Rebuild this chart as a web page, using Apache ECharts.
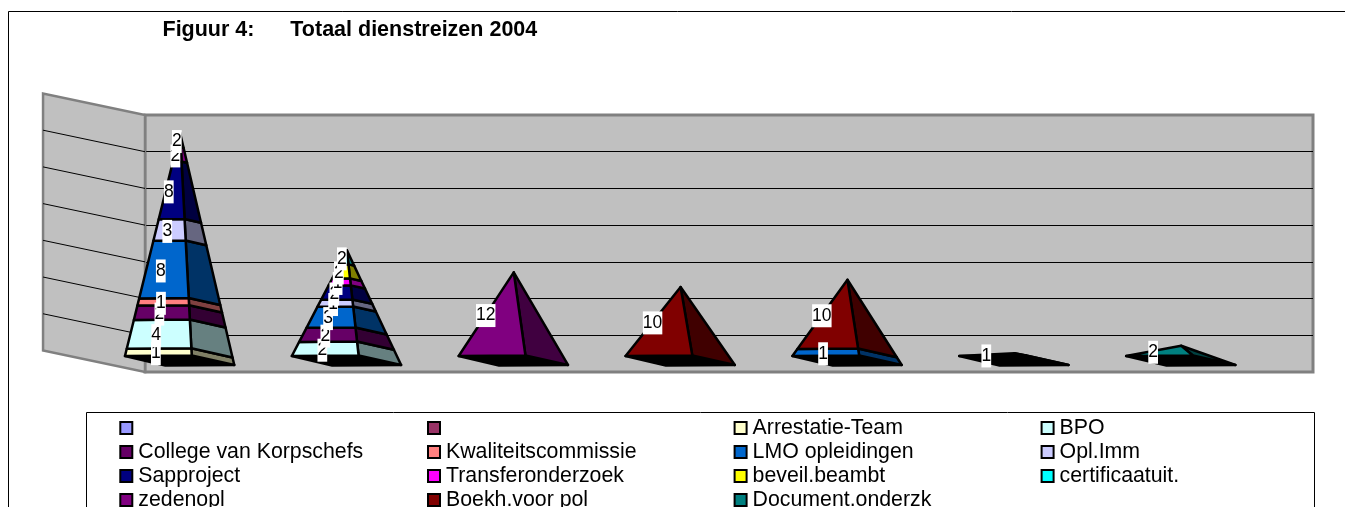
<!DOCTYPE html>
<html>
<head>
<meta charset="utf-8">
<style>html,body{margin:0;padding:0;background:#fff;overflow:hidden}#c{width:1345px;height:507px}</style>
<script src="https://cdn.jsdelivr.net/npm/echarts@6/dist/echarts.min.js"></script>
</head>
<body>
<div id="c"></div>
<script>
const categories = ['1', '2', '3', '4', '5', '6', '7'];
const seriesNames = [' ', '  ', 'Arrestatie-Team', 'BPO', 'College van Korpschefs', 'Kwaliteitscommissie',
  'LMO opleidingen', 'Opl.Imm', 'Sapproject', 'Transferonderzoek', 'beveil.beambt', 'certificaatuit.',
  'zedenopl', 'Boekh.voor pol', 'Document.onderzk'];
const seriesColors = ['#9999FF', '#993366', '#FFFFCC', '#CCFFFF', '#660066', '#FF8080', '#0066CC', '#CCCCFF',
  '#000080', '#FF00FF', '#FFFF00', '#00FFFF', '#800080', '#800000', '#008080'];
const blank1 = [0, 0, 0, 0, 0, 0, 0];
const blank2 = [0, 0, 0, 0, 0, 0, 0];
const arrestatie = [1, 0, 0, 0, 0, 0, 0];
const bpo = [4, 2, 0, 0, 0, 0, 0];
const college = [2, 2, 0, 0, 0, 0, 0];
const kwaliteit = [1, 0, 0, 0, 0, 0, 0];
const lmo = [8, 3, 0, 0, 1, 0, 0];
const oplImm = [3, 1, 0, 0, 0, 0, 0];
const sapproject = [8, 2, 0, 0, 0, 1, 0];
const transfer = [2, 1, 0, 0, 0, 0, 0];
const beveil = [0, 2, 0, 0, 0, 0, 0];
const certificaat = [0, 2, 0, 0, 0, 0, 0];
const zedenopl = [2, 0, 12, 0, 0, 0, 0];
const boekh = [0, 0, 0, 10, 10, 0, 0];
const documentOnd = [0, 0, 0, 0, 0, 0, 2];
const seriesValues = [blank1, blank2, arrestatie, bpo, college, kwaliteit, lmo, oplImm, sapproject,
  transfer, beveil, certificaat, zedenopl, boekh, documentOnd];
const axisMax = 35;
const axisStep = 5;
const axisTicks = [0, 5, 10, 15, 20, 25, 30, 35];

const totals = categories.map((_, i) => seriesValues.reduce((s, a) => s + a[i], 0));

// Picture geometry, as shares of one category band.
const SHIFT_X = -0.29, SHIFT_Y = -0.069;
const BASE = { left: [-0.330, -0.027], mid: [0.070, -0.030], right: [0.325, 0.027], front: [-0.088, 0.030] };
const WALL_DX = -0.611, WALL_DY = -0.129;

function frame(api, cat, total) {
  const zero = api.coord([cat, 0]);
  const band = api.size([1, 0])[0];
  const unit = api.size([0, 1])[1];
  const ax = zero[0] + SHIFT_X * band;
  const by = zero[1] + SHIFT_Y * band;
  const apex = [ax, by - total * unit];
  const pt = (k) => [ax + BASE[k][0] * band, by + BASE[k][1] * band];
  const at = (p, v) => [p[0] + (apex[0] - p[0]) * v / total, p[1] + (apex[1] - p[1]) * v / total];
  return { ax, by, band, apex, pt, at };
}
function darken(hex) {
  const n = parseInt(hex.slice(1), 16);
  const f = (v) => Math.round(v * 0.5).toString(16).padStart(2, '0');
  return '#' + f(n >> 16) + f((n >> 8) & 255) + f(n & 255);
}

const stackStart = categories.map(() => 0);
const pyramidSeries = seriesNames.map((name, k) => {
  const rows = [];
  seriesValues[k].forEach((v, i) => {
    if (v > 0) { rows.push([i, stackStart[i], stackStart[i] + v, totals[i], v]); stackStart[i] += v; }
  });
  return {
    type: 'custom', name, coordinateSystem: 'cartesian2d', data: rows, z: 3, silent: true,
    encode: { x: 0, y: 2 },
    itemStyle: { color: seriesColors[k] },
    renderItem(params, api) {
      const f = frame(api, api.value(0), api.value(3));
      const a = api.value(1), b = api.value(2);
      const L = f.pt('left'), M = f.pt('mid'), R = f.pt('right');
      const line = { stroke: '#000', lineWidth: 2.5, lineJoin: 'round' };
      return { type: 'group', children: [
        { type: 'polygon', shape: { points: [f.at(M, a), f.at(R, a), f.at(R, b), f.at(M, b)] },
          style: Object.assign({ fill: darken(seriesColors[k]) }, line) },
        { type: 'polygon', shape: { points: [f.at(L, a), f.at(M, a), f.at(M, b), f.at(L, b)] },
          style: Object.assign({ fill: seriesColors[k] }, line) }
      ] };
    }
  };
});

const baseRows = totals.map((t, i) => [i, 0, t]);
const baseSeries = {
  type: 'custom', name: 'base', data: baseRows, z: 2, silent: true, encode: { x: 0, y: 1 },
  renderItem(params, api) {
    const f = frame(api, api.value(0), api.value(2));
    return { type: 'polygon',
      shape: { points: [f.pt('left'), f.pt('mid'), f.pt('right'), f.pt('front')] },
      style: { fill: '#000', stroke: '#000', lineWidth: 2.5, lineJoin: 'round' } };
  }
};

const labelRows = [];
categories.forEach((_, i) => {
  let run = 0;
  seriesValues.forEach((vals) => {
    if (vals[i] > 0) { labelRows.push([i, run, run + vals[i] / 2, totals[i], vals[i]]); run += vals[i]; }
  });
});
const labelSeries = {
  type: 'custom', name: 'labels', data: labelRows, z: 5, silent: true, encode: { x: 0, y: 2 },
  renderItem(params, api) {
    const total = api.value(3), low = api.value(1), size = api.value(4);
    const f = frame(api, api.value(0), total);
    const L = f.pt('left'), M = f.pt('mid');
    const y = f.at([0, (L[1] + M[1]) / 2], api.value(2))[1] + 1.5;
    const x = f.ax - f.band * (0.009 + 0.135 * (1 - low / total) + 0.024 * size / total);
    return { type: 'text', x, y,
      style: { text: String(size), fill: '#000', fontFamily: 'Liberation Sans', fontSize: 17.5,
        align: 'center', verticalAlign: 'middle', backgroundColor: '#fff', padding: [3, 0, 2, 0] } };
  }
};

const wallSeries = {
  type: 'custom', name: 'sidewall', data: axisTicks.map((v) => [0, v]), z: 1, silent: true, encode: { x: 0, y: 1 },
  renderItem(params, api) {
    const cs = params.coordSys;
    const band = api.size([1, 0])[0];
    const v = api.value(1);
    const y = api.coord([0, v])[1];
    const dx = WALL_DX * band, dy = WALL_DY * band;
    const children = [];
    if (v === 0) {
      children.push({ type: 'polygon',
        shape: { points: [[cs.x, cs.y], [cs.x, cs.y + cs.height], [cs.x + dx, cs.y + cs.height + dy], [cs.x + dx, cs.y + dy]] },
        style: { fill: '#C0C0C0', stroke: '#808080', lineWidth: 2.5 } });
    } else if (v < axisMax) {
      children.push({ type: 'line', shape: { x1: cs.x, y1: y, x2: cs.x + dx, y2: y + dy },
        style: { stroke: '#000', lineWidth: 1 } });
    }
    return { type: 'group', children };
  }
};

const legendCol = (k, left) => ({
  orient: 'vertical', left, top: 416, height: 200, padding: 0, itemGap: 0, itemWidth: 12, itemHeight: 12,
  icon: 'rect', selectedMode: false, align: 'left',
  itemStyle: { borderColor: '#000', borderWidth: 2 },
  textStyle: { fontFamily: 'Liberation Sans', fontSize: 21.3, lineHeight: 18, color: '#000', padding: [6, 0, 0, 1] },
  data: seriesNames.filter((_, i) => i % 4 === k)
});

const option = {
  animation: false,
  backgroundColor: '#fff',
  title: {
    text: 'Figuur 4:\u00A0\u00A0\u00A0\u00A0\u00A0\u00A0Totaal dienstreizen 2004',
    left: 162.5, top: 19, padding: 0,
    textStyle: { fontFamily: 'Liberation Sans', fontSize: 21.5, fontWeight: 'bold', color: '#000' }
  },
  grid: { left: 145, right: 32, top: 115, bottom: 135, show: true, backgroundColor: '#C0C0C0', borderColor: '#808080', borderWidth: 3 },
  xAxis: { type: 'category', data: categories, axisLabel: { show: false }, axisTick: { show: false }, axisLine: { show: false } },
  yAxis: { type: 'value', min: 0, max: axisMax, interval: axisStep, axisLabel: { show: false }, axisTick: { show: false }, axisLine: { show: false },
    splitLine: { show: true, showMinLine: false, showMaxLine: false, lineStyle: { color: '#000', width: 1 } } },
  legend: [legendCol(0, 119.3), legendCol(1, 427), legendCol(2, 733.6), legendCol(3, 1040.6)],
  graphic: [
    { type: 'rect', silent: true, shape: { x: 8.5, y: 11.5, width: 1500, height: 600 }, style: { fill: 'none', stroke: '#000', lineWidth: 1 }, z: 0 },
    { type: 'rect', silent: true, shape: { x: 86.5, y: 412.5, width: 1228, height: 200 }, style: { fill: 'none', stroke: '#000', lineWidth: 1 }, z: 0 }
  ],
  series: [wallSeries, baseSeries].concat(pyramidSeries, [labelSeries])
};
echarts.init(document.getElementById('c'), null, { renderer: 'canvas' }).setOption(option);
</script>
</body>
</html>
